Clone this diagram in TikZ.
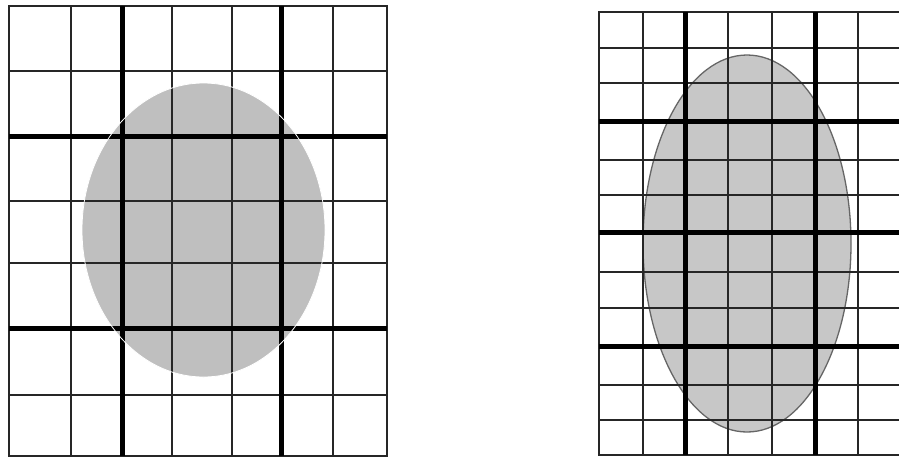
\documentclass[tikz,border=0pt]{standalone}
\usepackage{tikz}
\usepackage{xcolor}

\begin{document}
\begin{tikzpicture}[x=1pt, y=-1pt,
  gridline/.style={line width=2pt, black!85, line cap=rect},
  heavyline/.style={line width=5pt, black},
  blob/.style={fill=black!25}
]
\fill[white] (0,0) rectangle (899,459);
\useasboundingbox (0,0) rectangle (899,459);
% left: coarse grid, blob without outline
\fill[blob] (203.5,230) ellipse [x radius=121.5, y radius=147];
\foreach \x in {9,70.7,172.3,232.3,333.3,387.3}
  \draw[gridline] (\x,6) -- (\x,456);
\foreach \y in {6,71,201,263,395,456}
  \draw[gridline] (9,\y) -- (387.3,\y);
\foreach \x in {122.7,281}
  \draw[heavyline] (\x,6) -- (\x,456);
\foreach \y in {136,328}
  \draw[heavyline] (9,\y) -- (387.3,\y);
\draw[white, line width=0.8pt] (203.5,230) ellipse [x radius=121.5, y radius=147];
% right: fine grid, blob with outline
\filldraw[fill=black!22, draw=black!60, line width=1.3pt] (747,243.5) ellipse [x radius=104, y radius=188.5];
\foreach \x in {599,643,728,772,858,901}
  \draw[gridline] (\x,12) -- (\x,455);
\foreach \y in {12,48,83,160,195,272,308,385,420,455}
  \draw[gridline] (599,\y) -- (901,\y);
\foreach \x in {685,815}
  \draw[heavyline] (\x,12) -- (\x,455);
\foreach \y in {121,232,346}
  \draw[heavyline] (599,\y) -- (901,\y);
\end{tikzpicture}
\end{document}
